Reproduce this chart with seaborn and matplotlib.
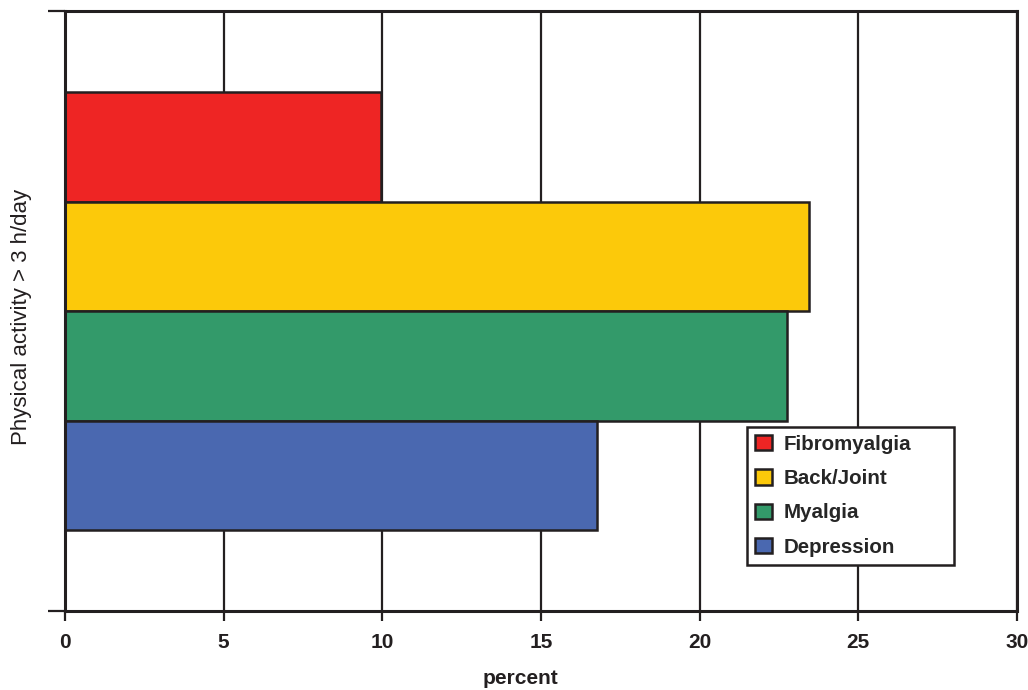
import pandas as pd
import matplotlib
matplotlib.use("Agg")
import matplotlib.pyplot as plt
import seaborn as sns

# Data
group = "Physical activity > 3 h/day"
conditions = ["Fibromyalgia", "Back/Joint", "Myalgia", "Depression"]
percent = [9.95, 23.45, 22.75, 16.77]
colors = ["#EE2524", "#FCC90A", "#339A6A", "#4A68B0"]
x_ticks = [0, 5, 10, 15, 20, 25, 30]

df = pd.DataFrame({"group": [group] * len(conditions),
                   "condition": conditions,
                   "percent": percent})

sns.set_style("white")
plt.rcParams["font.family"] = ["Liberation Sans", "DejaVu Sans"]

fig = plt.figure(figsize=(10.28, 6.9), dpi=100)
ax = fig.add_axes([0.0632, 0.1145, 0.9261, 0.8695])

# vertical grid lines behind bars
for t in x_ticks:
    ax.axvline(t, color="#231F20", lw=1.6, zorder=0)

sns.barplot(data=df, y="group", x="percent", hue="condition",
            hue_order=conditions, palette=colors, saturation=1, width=0.73,
            edgecolor="#231F20", linewidth=1.8, orient="h", ax=ax,
            zorder=2)

ax.set_xlim(0, 30)
ax.set_ylim(0.5, -0.5)
ax.set_xticks(x_ticks)
ax.set_xticklabels([str(t) for t in x_ticks], fontsize=15, fontweight="bold",
                   color="#231F20")
ax.set_yticks([-0.5, 0.5])
ax.set_yticklabels(["", ""])
ax.tick_params(axis="x", length=7, width=1.6, color="#231F20", pad=9,
               bottom=True)
ax.tick_params(axis="y", length=12, width=1.6, color="#231F20", left=True)

for s in ax.spines.values():
    s.set_color("#231F20")
    s.set_linewidth(2.2)

ax.set_xlabel("percent", fontsize=15, fontweight="bold", color="#231F20")
ax.xaxis.set_label_coords(0.4783, -0.097)
ax.set_ylabel(group, fontsize=16, color="#231F20")
ax.yaxis.set_label_coords(-0.035, 0.49)

leg = ax.legend(loc="lower left", bbox_to_anchor=(0.716, 0.077, 0.2174, 0.2),
                mode="expand", prop={"weight": "bold", "size": 14.8},
                frameon=True, fancybox=False, edgecolor="#231F20",
                handlelength=0.85, handleheight=0.75, handletextpad=0.55,
                labelspacing=0.74, borderpad=0.4, borderaxespad=0)
leg.get_frame().set_linewidth(1.8)
leg.get_frame().set_alpha(1)
for h in leg.legend_handles:
    h.set_edgecolor("#231F20")
    h.set_linewidth(1.8)

fig.savefig("out.png", dpi=100, facecolor="white")
